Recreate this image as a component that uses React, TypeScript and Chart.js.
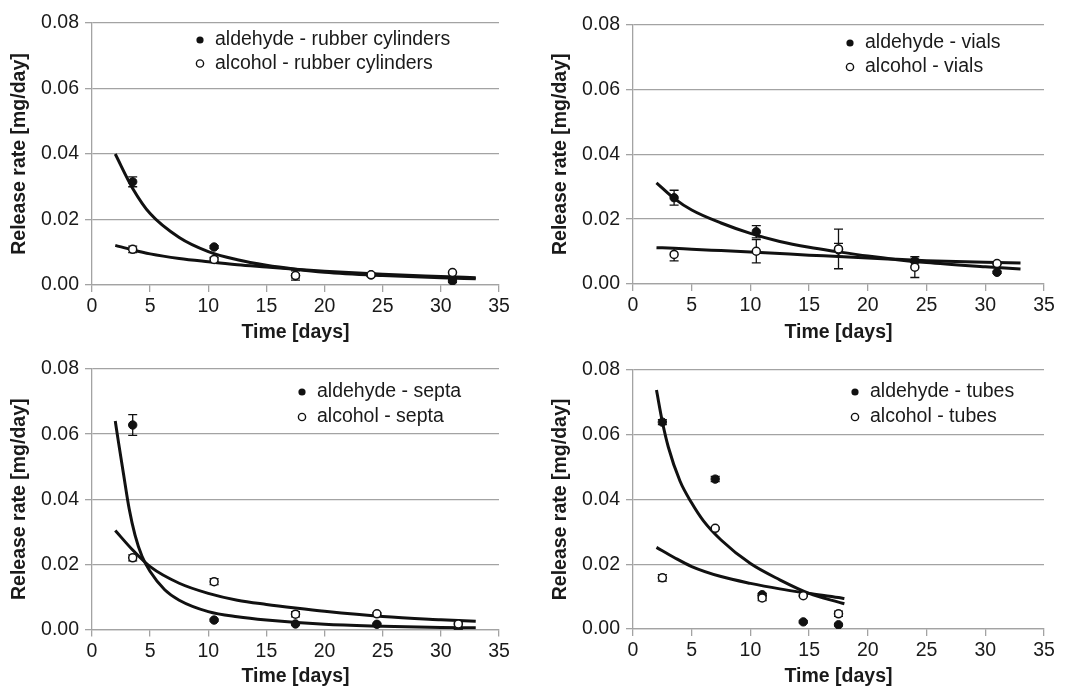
import React, { useEffect, useRef } from "react";
import { Chart, registerables } from "chart.js";

Chart.register(...registerables);

// ---------- axis ticks / titles ----------
const xTicks = [0, 5, 10, 15, 20, 25, 30, 35];
const yTicks = [0, 0.02, 0.04, 0.06, 0.08];
const yTickLabels = ["0.00", "0.02", "0.04", "0.06", "0.08"];
const xTitle = "Time [days]";
const yTitle = "Release rate [mg/day]";

// ---------- panel 1: rubber cylinders ----------
const p1Legend = ["aldehyde - rubber cylinders", "alcohol - rubber cylinders"];
const p1Days = [3.5, 10.5, 17.5, 24, 31];
const p1Ald = [0.0315, 0.0116, 0.0028, 0.0031, 0.0012];
const p1AldErr = [0.0015, 0.0004, 0.0006, 0.0004, 0.0004];
const p1Alc = [0.0109, 0.0078, 0.0029, 0.0031, 0.0038];
const p1AlcErr = [0.001, 0.0006, 0.0014, 0.0005, 0.0003];
const p1FitAldX = [2, 3.5, 5, 7.5, 10, 12.5, 15, 17.5, 20, 25, 30, 33];
const p1FitAld = [0.04, 0.0295, 0.0218, 0.0145, 0.0102, 0.0077, 0.006, 0.0048, 0.0039, 0.0029, 0.0022, 0.0019];
const p1FitAlcX = [2, 3.5, 5, 7.5, 10, 12.5, 15, 17.5, 20, 25, 30, 33];
const p1FitAlc = [0.0121, 0.0107, 0.0095, 0.0081, 0.0071, 0.0062, 0.0055, 0.0048, 0.0042, 0.0033, 0.0026, 0.0022];

// ---------- panel 2: vials ----------
const p2Legend = ["aldehyde - vials", "alcohol - vials"];
const p2Days = [3.5, 10.5, 17.5, 24, 31];
const p2Ald = [0.0266, 0.0161, 0.0105, 0.0071, 0.0036];
const p2AldErr = [0.0023, 0.0019, 0.002, 0.0005, 0.0003];
const p2Alc = [0.0091, 0.0101, 0.0108, 0.0052, 0.0063];
const p2AlcErr = [0.002, 0.0036, 0.0061, 0.0032, 0.0003];
const p2FitAldX = [2, 3.5, 5, 7.5, 10, 12.5, 15, 17.5, 20, 22.5, 25, 30, 33];
const p2FitAld = [0.0312, 0.0264, 0.0228, 0.0188, 0.0156, 0.0131, 0.0113, 0.0099, 0.0086, 0.0075, 0.0066, 0.0053, 0.0046];
const p2FitAlcX = [2, 3.5, 5, 7.5, 10, 12.5, 15, 17.5, 20, 22.5, 25, 30, 33];
const p2FitAlc = [0.0112, 0.011, 0.0107, 0.0103, 0.0099, 0.0094, 0.0089, 0.0085, 0.008, 0.0076, 0.0072, 0.0067, 0.0065];

// ---------- panel 3: septa ----------
const p3Legend = ["aldehyde - septa", "alcohol - septa"];
const p3Days = [3.5, 10.5, 17.5, 24.5, 31.5];
const p3Ald = [0.0628, 0.0029, 0.0017, 0.0016, 0.0003];
const p3AldErr = [0.0032, 0.0003, 0.0003, 0.0003, 0.0002];
const p3Alc = [0.022, 0.0147, 0.0047, 0.0048, 0.0017];
const p3AlcErr = [0.0009, 0.0009, 0.0008, 0.0003, 0.0003];
const p3FitAldX = [2, 2.3, 2.7, 3.2, 3.7, 4.3, 5, 6.25, 7.5, 10, 12.5, 15, 20, 25, 30, 33];
const p3FitAld = [0.064, 0.057, 0.048, 0.037, 0.029, 0.0225, 0.0178, 0.0122, 0.009, 0.0055, 0.0039, 0.0029, 0.0016, 0.001, 0.0006, 0.0005];
const p3FitAlcX = [2, 3.5, 5, 7.5, 10, 12.5, 15, 17.5, 20, 25, 30, 33];
const p3FitAlc = [0.0304, 0.0244, 0.0193, 0.0142, 0.0111, 0.009, 0.0077, 0.0066, 0.0056, 0.004, 0.003, 0.0025];

// ---------- panel 4: tubes ----------
const p4Legend = ["aldehyde - tubes", "alcohol - tubes"];
const p4Days = [2.5, 7, 11, 14.5, 17.5];
const p4Ald = [0.0639, 0.0463, 0.0106, 0.0022, 0.0013];
const p4AldErr = [0.0008, 0.0008, 0.0004, 0.0003, 0.0003];
const p4Alc = [0.0158, 0.0311, 0.0096, 0.0103, 0.0047];
const p4AlcErr = [0.001, 0.0003, 0.0008, 0.0002, 0.0008];
const p4FitAldX = [2, 2.5, 3, 4, 5, 6, 7.5, 10, 12.5, 15, 17.5, 18];
const p4FitAld = [0.0738, 0.064, 0.0563, 0.0457, 0.0389, 0.0334, 0.0275, 0.0202, 0.0152, 0.011, 0.0083, 0.0078];
const p4FitAlcX = [2, 3.5, 5, 7.5, 10, 12.5, 15, 17.5, 18];
const p4FitAlc = [0.0252, 0.0221, 0.0193, 0.0162, 0.0141, 0.0124, 0.011, 0.0097, 0.0094];

// ---------- styling ----------
const FONT = "'Liberation Sans', Arial, Helvetica, sans-serif";
const TEXT = "#1a1a1a";
const MARK = "#111111";
const GRID = "#a3a3a3";
const FS = 19.5;

type PanelData = {
  legend: string[];
  days: number[];
  ald: number[];
  aldErr: number[];
  alc: number[];
  alcErr: number[];
  fitAldX: number[];
  fitAld: number[];
  fitAlcX: number[];
  fitAlc: number[];
};

type Layout = {
  left: number;
  top: number;
  w: number;
  h: number;
  padTop: number;
  padRight: number;
  yAxisW: number;
  xAxisH: number;
  legBx: number;
  legTx: number;
  legY: number;
  legGap: number;
};

const panels: PanelData[] = [
  { legend: p1Legend, days: p1Days, ald: p1Ald, aldErr: p1AldErr, alc: p1Alc, alcErr: p1AlcErr, fitAldX: p1FitAldX, fitAld: p1FitAld, fitAlcX: p1FitAlcX, fitAlc: p1FitAlc },
  { legend: p2Legend, days: p2Days, ald: p2Ald, aldErr: p2AldErr, alc: p2Alc, alcErr: p2AlcErr, fitAldX: p2FitAldX, fitAld: p2FitAld, fitAlcX: p2FitAlcX, fitAlc: p2FitAlc },
  { legend: p3Legend, days: p3Days, ald: p3Ald, aldErr: p3AldErr, alc: p3Alc, alcErr: p3AlcErr, fitAldX: p3FitAldX, fitAld: p3FitAld, fitAlcX: p3FitAlcX, fitAlc: p3FitAlc },
  { legend: p4Legend, days: p4Days, ald: p4Ald, aldErr: p4AldErr, alc: p4Alc, alcErr: p4AlcErr, fitAldX: p4FitAldX, fitAld: p4FitAld, fitAlcX: p4FitAlcX, fitAlc: p4FitAlc },
];

const layouts: Layout[] = [
  { left: 0, top: 0, w: 535, h: 344, padTop: 23, padRight: 36, yAxisW: 92, xAxisH: 59, legBx: 108, legTx: 123, legY: 17, legGap: 23.5 },
  { left: 541, top: 0, w: 529, h: 344, padTop: 24.5, padRight: 26, yAxisW: 92, xAxisH: 60, legBx: 217, legTx: 232, legY: 18.5, legGap: 24 },
  { left: 0, top: 344, w: 535, h: 344, padTop: 25, padRight: 36, yAxisW: 92, xAxisH: 58.5, legBx: 210, legTx: 225, legY: 23, legGap: 25 },
  { left: 541, top: 344, w: 529, h: 344, padTop: 26, padRight: 26, yAxisW: 92, xAxisH: 59, legBx: 222, legTx: 237, legY: 22, legGap: 25 },
];

const zip = (xs: number[], ys: number[]) => xs.map((x, i) => ({ x, y: ys[i] }));

const errorBarPlugin = {
  id: "errorBars",
  beforeDatasetsDraw(chart: any) {
    const { ctx, scales } = chart;
    const xs = scales.x;
    const ys = scales.y;
    ctx.save();
    ctx.strokeStyle = MARK;
    ctx.lineWidth = 1.3;
    chart.data.datasets.forEach((ds: any) => {
      const errs: number[] | undefined = ds.errors;
      if (!errs) return;
      ds.data.forEach((pt: any, i: number) => {
        const e = errs[i];
        if (!e) return;
        const px = xs.getPixelForValue(pt.x);
        const top = ys.getPixelForValue(pt.y + e);
        const bot = ys.getPixelForValue(pt.y - e);
        ctx.beginPath();
        ctx.moveTo(px, top);
        ctx.lineTo(px, bot);
        ctx.moveTo(px - 4.5, top);
        ctx.lineTo(px + 4.5, top);
        ctx.moveTo(px - 4.5, bot);
        ctx.lineTo(px + 4.5, bot);
        ctx.stroke();
      });
    });
    ctx.restore();
  },
};

const insideLegendPlugin = {
  id: "insideLegend",
  afterDraw(chart: any, _args: any, opts: any) {
    const { ctx, chartArea } = chart;
    ctx.save();
    ctx.font = `${FS}px ${FONT}`;
    ctx.textBaseline = "middle";
    ctx.textAlign = "left";
    (opts.items as { text: string; filled: boolean }[]).forEach((it, i) => {
      const y = chartArea.top + opts.y + i * opts.gap;
      const bx = chartArea.left + opts.bx;
      ctx.beginPath();
      ctx.arc(bx, y, 3.6, 0, Math.PI * 2);
      if (it.filled) {
        ctx.fillStyle = MARK;
        ctx.fill();
      } else {
        ctx.fillStyle = "#ffffff";
        ctx.fill();
        ctx.lineWidth = 1.4;
        ctx.strokeStyle = MARK;
        ctx.stroke();
      }
      ctx.fillStyle = TEXT;
      ctx.fillText(it.text, chartArea.left + opts.tx, y);
    });
    ctx.restore();
  },
};

function buildConfig(p: PanelData, l: Layout): any {
  const tickFont = { family: FONT, size: FS };
  const titleFont = { family: FONT, size: FS, weight: "bold" as const };
  return {
    type: "scatter",
    data: {
      datasets: [
        {
          label: p.legend[1],
          data: zip(p.days, p.alc),
          errors: p.alcErr,
          order: 0,
          showLine: false,
          pointRadius: 4,
          pointBackgroundColor: "#ffffff",
          pointBorderColor: MARK,
          pointBorderWidth: 1.5,
        },
        {
          label: p.legend[0],
          data: zip(p.days, p.ald),
          errors: p.aldErr,
          order: 1,
          showLine: false,
          pointRadius: 4.2,
          pointBackgroundColor: MARK,
          pointBorderColor: MARK,
          pointBorderWidth: 1,
        },
        {
          label: "fit aldehyde",
          data: zip(p.fitAldX, p.fitAld),
          order: 2,
          showLine: true,
          borderColor: MARK,
          borderWidth: 3,
          pointRadius: 0,
          cubicInterpolationMode: "monotone",
          fill: false,
        },
        {
          label: "fit alcohol",
          data: zip(p.fitAlcX, p.fitAlc),
          order: 2,
          showLine: true,
          borderColor: MARK,
          borderWidth: 3,
          pointRadius: 0,
          cubicInterpolationMode: "monotone",
          fill: false,
        },
      ],
    },
    options: {
      animation: false,
      responsive: false,
      events: [],
      layout: { padding: { top: l.padTop, right: l.padRight, left: 0, bottom: 0 } },
      plugins: {
        legend: { display: false },
        tooltip: { enabled: false },
        insideLegend: {
          items: [
            { text: p.legend[0], filled: true },
            { text: p.legend[1], filled: false },
          ],
          bx: l.legBx,
          tx: l.legTx,
          y: l.legY,
          gap: l.legGap,
        },
      },
      scales: {
        x: {
          type: "linear",
          min: 0,
          max: 35,
          afterBuildTicks: (s: any) => {
            s.ticks = xTicks.map((v) => ({ value: v }));
          },
          afterFit: (s: any) => {
            s.height = l.xAxisH;
          },
          grid: { drawOnChartArea: false, drawTicks: true, tickLength: 7, color: GRID, lineWidth: 1.3 },
          border: { display: true, color: GRID, width: 1.3 },
          ticks: { font: tickFont, color: TEXT, padding: 3, maxRotation: 0, autoSkip: false },
          title: { display: true, text: xTitle, font: titleFont, color: TEXT, padding: { top: 0, bottom: 0 } },
        },
        y: {
          type: "linear",
          min: 0,
          max: 0.08,
          afterBuildTicks: (s: any) => {
            s.ticks = yTicks.map((v) => ({ value: v }));
          },
          afterFit: (s: any) => {
            s.width = l.yAxisW;
          },
          grid: { color: GRID, lineWidth: 1.3, tickLength: 7, drawTicks: true },
          border: { display: true, color: GRID, width: 1.3 },
          ticks: {
            font: tickFont,
            color: TEXT,
            padding: 6,
            autoSkip: false,
            callback: (_v: any, i: number) => yTickLabels[i],
          },
          title: { display: true, text: yTitle, font: titleFont, color: TEXT, padding: { top: 8, bottom: 0 } },
        },
      },
    },
    plugins: [errorBarPlugin, insideLegendPlugin],
  };
}

function Panel({ p, l }: { p: PanelData; l: Layout }) {
  const ref = useRef<HTMLCanvasElement | null>(null);
  useEffect(() => {
    if (!ref.current) return;
    const chart = new Chart(ref.current, buildConfig(p, l));
    return () => chart.destroy();
  }, [p, l]);
  return (
    <canvas
      ref={ref}
      width={l.w}
      height={l.h}
      style={{ position: "absolute", left: l.left, top: l.top, width: l.w, height: l.h, display: "block" }}
    />
  );
}

export default function App() {
  return (
    <div style={{ position: "absolute", left: 0, top: 0, width: 1070, height: 688, background: "#ffffff", overflow: "hidden" }}>
      {panels.map((p, i) => (
        <Panel key={i} p={p} l={layouts[i]} />
      ))}
    </div>
  );
}
